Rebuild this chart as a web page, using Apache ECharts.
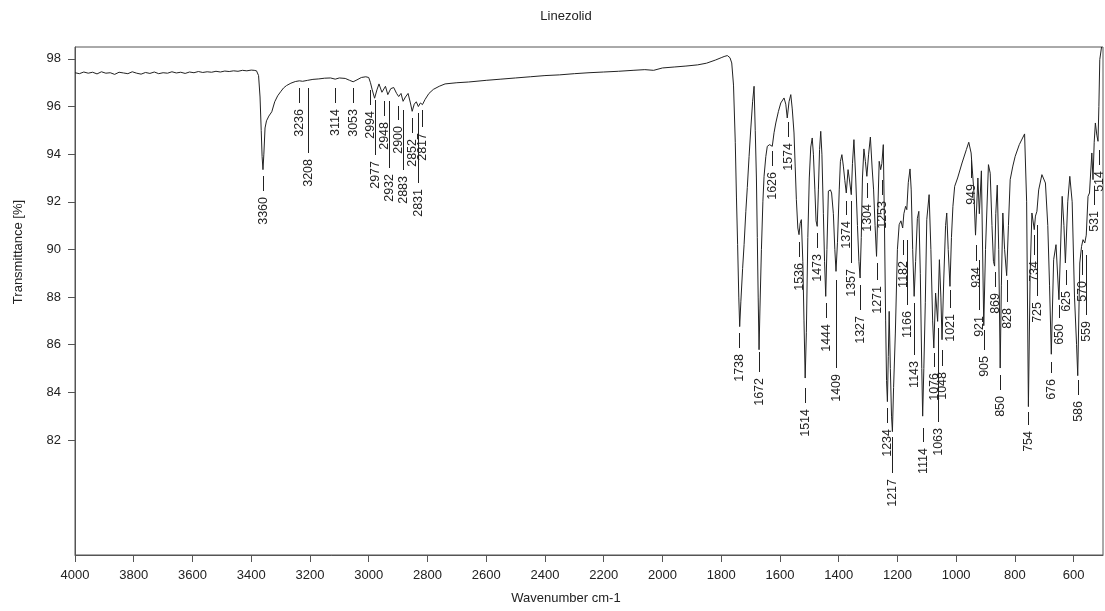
<!DOCTYPE html>
<html><head><meta charset="utf-8">
<script src="https://cdn.jsdelivr.net/npm/echarts@6/dist/echarts.min.js"></script>
<style>html,body{margin:0;padding:0;background:#fff}#c{width:1105px;height:611px}</style>
</head><body><div id="c"></div>
<script>
const wavenumbers = [4000,3985,3970,3955,3940,3925,3910,3895,3880,3865,3850,3835,3820,3805,3790,3775,3760,3745,3730,3715,3700,3685,3670,3655,3640,3625,3610,3595,3580,3565,3550,3535,3520,3505,3490,3475,3460,3445,3430,3415,3400,3390,3382,3375,3370,3366,3363,3360,3357,3353,3348,3340,3330,3320,3310,3300,3290,3280,3265,3250,3236,3225,3208,3190,3170,3150,3130,3114,3100,3080,3065,3053,3040,3025,3010,3000,2994,2988,2980,2972,2965,2955,2949,2943,2935,2925,2915,2905,2898,2890,2883,2875,2866,2858,2852,2845,2838,2831,2824,2817,2808,2795,2780,2760,2740,2700,2660,2600,2550,2500,2450,2400,2350,2300,2250,2200,2150,2100,2060,2030,2000,1960,1920,1880,1850,1820,1800,1790,1779,1770,1764,1758,1752,1748,1744,1740,1737,1733,1727,1722,1716,1711,1705,1699,1693,1688,1684,1680,1677,1674,1671,1668,1663,1658,1654,1648,1643,1635,1626,1620,1614,1605,1597,1586,1580,1575,1569,1563,1558,1552,1548,1544,1539,1535,1531,1527,1522,1518,1514,1510,1505,1500,1495,1490,1486,1481,1477,1473,1469,1465,1461,1457,1452,1448,1444,1440,1435,1428,1424,1418,1413,1409,1404,1398,1394,1389,1384,1379,1374,1368,1364,1357,1353,1348,1342,1336,1331,1327,1323,1319,1314,1309,1304,1298,1292,1286,1281,1276,1271,1267,1262,1257,1253,1248,1244,1240,1237,1234,1231,1228,1224,1220,1217,1213,1207,1200,1194,1188,1182,1178,1172,1168,1163,1157,1153,1148,1143,1138,1132,1127,1122,1117,1114,1110,1105,1100,1092,1086,1080,1076,1070,1063,1057,1052,1048,1042,1036,1032,1027,1021,1016,1011,1005,995,980,965,957,949,940,934,926,921,914,906,900,890,884,878,873,869,865,860,855,850,846,841,835,828,822,816,807,799,785,767,760,754,748,742,734,730,725,719,708,696,688,682,676,668,660,650,639,633,628,620,613,605,597,590,586,579,573,568,562,557,551,546,538,534,530,526,521,517,514,511,505,500];
const transmittance = [97.42,97.38,97.45,97.40,97.44,97.37,97.46,97.40,97.42,97.35,97.44,97.41,97.38,97.46,97.40,97.36,97.43,97.39,97.45,97.38,97.42,97.40,97.46,97.41,97.44,97.39,97.45,97.42,97.47,97.43,97.46,97.44,97.48,97.45,97.49,97.47,97.50,97.48,97.52,97.50,97.53,97.52,97.50,97.30,96.40,95.00,93.90,93.35,94.00,95.10,95.40,95.60,95.78,96.20,96.45,96.62,96.78,96.88,96.98,97.05,97.08,97.06,97.10,97.14,97.16,97.19,97.20,97.15,97.20,97.18,97.10,97.04,97.12,97.22,97.25,97.22,97.00,96.70,96.35,96.70,96.95,96.60,96.55,96.85,96.50,96.75,96.80,96.55,96.42,96.55,96.22,96.40,96.55,96.15,95.80,96.10,96.20,96.00,96.15,96.08,96.30,96.55,96.72,96.85,96.95,97.00,97.03,97.10,97.15,97.20,97.25,97.30,97.33,97.38,97.42,97.45,97.48,97.52,97.55,97.52,97.62,97.66,97.70,97.75,97.82,97.95,98.05,98.10,98.14,98.05,97.83,96.90,94.50,92.20,90.20,88.00,86.76,87.80,89.20,90.20,91.60,92.60,93.90,95.10,96.20,96.85,95.00,93.00,90.50,88.00,85.79,87.50,89.99,92.00,93.07,93.90,94.33,94.40,94.33,94.90,95.31,95.80,96.15,96.36,96.10,95.52,96.20,96.50,95.90,94.89,93.50,92.09,90.90,90.62,91.10,91.25,89.50,87.00,84.60,86.50,90.50,93.00,94.30,94.68,94.00,92.50,91.20,90.97,92.50,94.20,94.96,94.00,91.50,89.50,88.03,90.00,92.45,92.50,92.37,91.50,90.00,89.08,90.30,92.50,93.70,93.98,93.50,92.90,92.37,93.35,93.00,92.30,93.60,94.61,93.00,91.00,89.50,88.80,90.50,93.00,94.22,93.70,93.07,94.00,94.72,93.42,92.50,91.00,89.71,91.50,93.70,93.35,93.60,94.40,91.00,87.00,84.50,83.61,85.50,87.40,85.00,83.00,82.35,84.20,86.49,89.99,91.04,91.20,90.90,91.50,91.81,91.67,92.80,93.38,92.50,90.00,88.03,89.50,91.30,91.60,89.00,85.00,83.00,85.00,87.76,91.25,92.30,90.00,87.00,85.86,88.17,86.98,89.57,88.00,86.21,88.80,91.00,91.53,90.00,88.45,90.50,91.81,92.65,93.00,93.63,94.20,94.50,94.05,92.50,90.60,93.00,91.50,93.30,86.80,90.00,93.56,93.20,91.00,89.50,89.30,91.50,92.70,90.00,85.02,88.50,91.53,90.00,88.90,91.00,92.93,93.50,93.91,94.40,94.85,92.00,83.40,89.01,91.53,90.83,91.40,91.60,92.50,93.14,92.79,91.00,88.50,85.60,89.57,90.20,87.89,92.23,91.00,89.43,92.00,93.07,92.00,88.00,86.00,84.70,89.43,90.13,90.41,90.27,90.60,92.23,92.37,94.05,92.93,94.50,95.31,94.80,94.54,96.00,97.97,98.50];

const peakWn = [3360,3236,3208,3114,3053,2994,2977,2948,2932,2900,2883,2852,2831,2817,1738,1672,1626,1574,1536,1514,1473,1444,1409,1374,1357,1327,1304,1271,1253,1234,1217,1182,1166,1143,1114,1076,1063,1048,1021,949,934,921,905,869,850,828,754,734,725,676,650,625,586,570,559,531,514];
const peakLabelTop = [93.07,96.78,96.78,96.78,96.78,96.71,96.29,96.22,96.22,96.01,95.87,95.52,95.73,95.87,86.49,85.70,94.15,95.37,90.32,84.19,90.70,87.76,88.73,92.05,92.05,88.52,92.80,89.44,92.93,83.35,82.13,90.41,90.41,87.76,82.51,85.66,86.71,85.79,88.31,93.77,90.20,89.57,86.63,89.06,84.73,88.73,83.18,90.62,91.04,85.28,87.66,89.15,84.52,89.99,89.78,92.59,94.19];
// leader lengths in px (layout only)
const peakLead = [15,15,65,15,15,15,55,15,67,14,60,15,70,17,15,20,15,15,15,15,15,15,88,14,62,25,15,17,15,15,36,15,65,52,14,14,94,16,18,18,16,50,20,15,15,22,13,20,71,11,13,15,15,25,60,17,15];

const xTicks = [600,800,1000,1200,1400,1600,1800,2000,2200,2400,2600,2800,3000,3200,3400,3600,3800,4000];
const yTicks = [82,84,86,88,90,92,94,96,98];

const FONT = '"Liberation Sans", Arial, sans-serif';
const chart = echarts.init(document.getElementById('c'), null, {renderer:'canvas'});
const series = wavenumbers.map((w,i)=>[w, transmittance[i]]);
chart.setOption({
  animation:false,
  backgroundColor:'#fff',
  grid:{left:75,right:2,top:47,bottom:56,show:true,borderColor:'#555',borderWidth:1,backgroundColor:'transparent'},
  xAxis:{type:'value',min:500,max:4000,inverse:true,
    axisLine:{show:true,lineStyle:{color:'#555',width:1}},
    axisTick:{show:true,length:7,lineStyle:{color:'#555'},customValues:xTicks},
    axisLabel:{color:'#222',fontSize:13,fontFamily:FONT,margin:14,customValues:xTicks,formatter:v=>String(v)},
    splitLine:{show:false}},
  yAxis:{type:'value',min:77.17,max:98.5,
    axisLine:{show:true,lineStyle:{color:'#555',width:1}},
    axisTick:{show:true,length:7,lineStyle:{color:'#555'},customValues:yTicks},
    axisLabel:{color:'#222',fontSize:13,fontFamily:FONT,margin:14,customValues:yTicks,formatter:v=>String(v)},
    splitLine:{show:false}},
  graphic:[
    {type:'text',x:566,y:16,style:{text:'Linezolid',fill:'#222',font:'13px '+FONT,align:'center',verticalAlign:'middle'}},
    {type:'text',x:566,y:598,style:{text:'Wavenumber cm-1',fill:'#222',font:'13px '+FONT,align:'center',verticalAlign:'middle'}},
    {type:'text',x:18,y:252,rotation:Math.PI/2,style:{text:'Transmittance [%]',fill:'#222',font:'13px '+FONT,align:'center',verticalAlign:'middle'}}
  ],
  series:[
    {type:'line',data:series,showSymbol:false,symbol:'none',lineStyle:{color:'#222',width:1},clip:true,z:3},
    {type:'custom',coordinateSystem:'cartesian2d',clip:false,z:4,
      data:peakWn.map((w,i)=>[w,peakLabelTop[i],i]),
      encode:{x:0,y:1},
      renderItem:function(params,api){
        const i = api.value(2);
        const p = api.coord([api.value(0),api.value(1)]);
        const x = Math.round(p[0])+0.5;
        const y0 = Math.round(p[1]);
        const y1 = y0 + peakLead[i];
        return {type:'group',children:[
          {type:'line',shape:{x1:x,y1:y0,x2:x,y2:y1},style:{stroke:'#222',lineWidth:1}},
          {type:'text',x:x,y:y1+6,rotation:Math.PI/2,style:{text:String(peakWn[i]),fill:'#222',font:'12.5px '+FONT,align:'right',verticalAlign:'middle'}}
        ]};
      }}
  ]
});
</script></body></html>
